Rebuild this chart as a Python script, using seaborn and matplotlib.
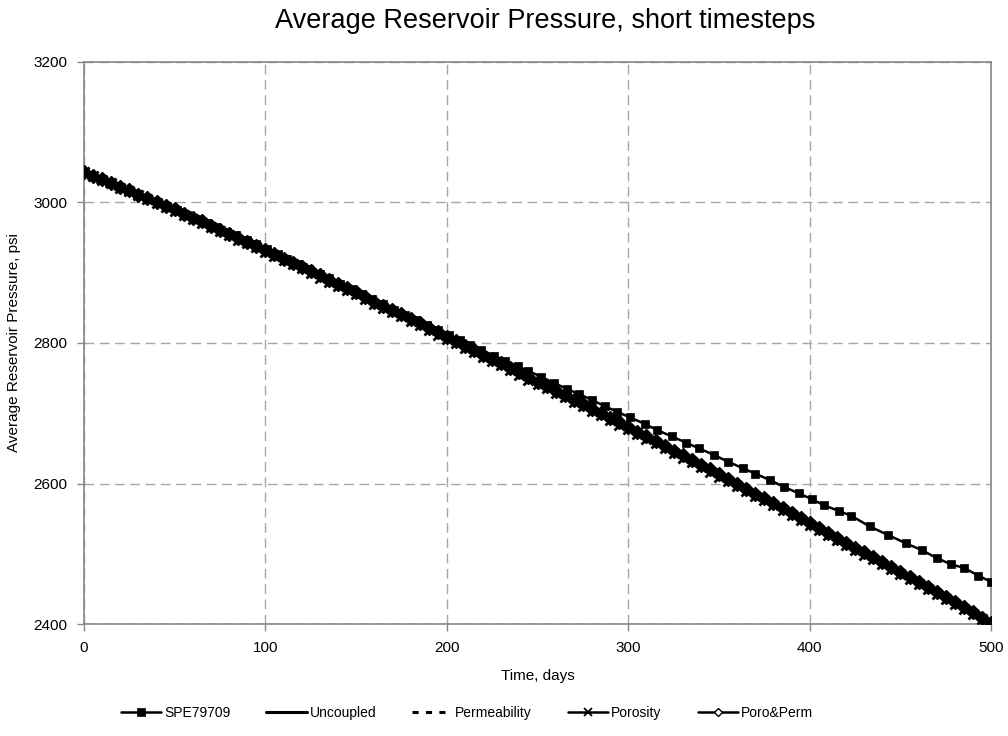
import matplotlib
matplotlib.use("Agg")
import matplotlib.pyplot as plt
import seaborn as sns
import numpy as np

# ---------------- data ----------------
t_spe = [0, 4, 9, 14, 19, 24, 29, 35, 40, 46, 51, 57, 62, 68, 73, 79, 84, 90, 95,
         101, 107, 112, 118, 124, 130, 135, 141, 147, 153, 159, 165, 171, 177, 183,
         189, 195, 201, 207, 213, 219, 226, 232, 239, 245, 252, 259, 266, 273, 280,
         287, 294, 301, 309, 316, 324, 332, 339, 347, 355, 363, 370, 378, 386, 394,
         401, 408, 416, 423, 433, 443, 453, 462, 470, 478, 485, 493, 500]
p_spe = [3043, 3039, 3033, 3028, 3023, 3017, 3012, 3006, 3001, 2994, 2989, 2982,
         2977, 2970, 2965, 2958, 2953, 2946, 2941,
         2934, 2926, 2920, 2913, 2905, 2898, 2892, 2884, 2877, 2869, 2862, 2855,
         2847, 2840, 2833, 2825, 2818, 2811, 2804, 2797, 2790, 2782, 2775, 2767,
         2760, 2752, 2743, 2735, 2727, 2719, 2710, 2702, 2694, 2685, 2676, 2667,
         2658, 2650, 2641, 2631, 2622, 2614, 2605, 2595, 2586, 2578, 2569, 2561,
         2554, 2539, 2527, 2515, 2505, 2494, 2485, 2480, 2469, 2460]

t_coarse = [0, 25, 50, 75, 100, 125, 150, 175, 200, 225, 250, 275, 300, 325,
            350, 375, 400, 425, 450, 475, 500]
p_uncoupled = [3043, 3016, 2988, 2959, 2930, 2900, 2869, 2838, 2806, 2774, 2742,
               2710, 2677, 2644, 2610, 2576, 2541, 2506, 2471, 2436, 2400]
p_perm = [3043, 3017, 2990, 2962, 2934, 2905, 2875, 2844, 2813, 2781, 2749,
          2716, 2683, 2649, 2615, 2580, 2545, 2510, 2474, 2438, 2402]

t_dense = list(range(0, 501, 5))
p_poro = [3043, 3038, 3032, 3027, 3021, 3016, 3010, 3005, 2999, 2994, 2988,
          2982, 2976, 2971, 2965, 2959, 2953, 2947, 2942, 2936, 2930,
          2924, 2918, 2912, 2906, 2900, 2893, 2887, 2881, 2875, 2869,
          2863, 2856, 2850, 2844, 2838, 2831, 2825, 2819, 2812, 2806,
          2800, 2793, 2787, 2780, 2774, 2768, 2761, 2755, 2748, 2742,
          2736, 2729, 2723, 2716, 2710, 2703, 2697, 2690, 2684, 2677,
          2670, 2664, 2657, 2650, 2644, 2637, 2630, 2623, 2617, 2610,
          2603, 2596, 2589, 2582, 2576, 2569, 2562, 2555, 2548, 2541,
          2534, 2527, 2520, 2513, 2506, 2499, 2492, 2485, 2478, 2471,
          2464, 2457, 2450, 2443, 2436, 2428, 2421, 2414, 2407, 2400]
p_poroperm = [3043, 3038, 3033, 3028, 3022, 3017, 3011, 3006, 3001, 2995, 2990,
              2984, 2978, 2973, 2967, 2961, 2955, 2950, 2944, 2938, 2932,
              2926, 2920, 2914, 2908, 2902, 2896, 2890, 2884, 2878, 2872,
              2866, 2859, 2853, 2847, 2841, 2834, 2828, 2822, 2815, 2809,
              2803, 2796, 2790, 2783, 2777, 2771, 2764, 2758, 2751, 2745,
              2739, 2732, 2726, 2719, 2713, 2706, 2700, 2693, 2687, 2680,
              2673, 2667, 2660, 2653, 2647, 2640, 2633, 2626, 2620, 2613,
              2606, 2599, 2592, 2585, 2579, 2572, 2565, 2558, 2551, 2544,
              2537, 2530, 2523, 2516, 2509, 2502, 2495, 2488, 2481, 2474,
              2467, 2460, 2453, 2446, 2439, 2431, 2424, 2417, 2409, 2402]

x_ticks = [0, 100, 200, 300, 400, 500]
y_ticks = [2400, 2600, 2800, 3000, 3200]

# ---------------- style ----------------
sns.set_theme(style="white")
plt.rcParams['font.family'] = ['Liberation Sans', 'DejaVu Sans']
plt.rcParams['text.color'] = 'black'
plt.rcParams['axes.labelcolor'] = 'black'

fig = plt.figure(figsize=(10.08, 7.36), dpi=100)
ax = fig.add_axes([0.0833, 0.152, 0.900, 0.764])

sns.lineplot(x=t_spe, y=p_spe, ax=ax, color='black', lw=1.8, marker='s',
             markersize=6.3, markeredgewidth=0.5, markeredgecolor='black',
             label='SPE79709', zorder=5)
sns.lineplot(x=t_coarse, y=p_uncoupled, ax=ax, color='black', lw=2.2,
             label='Uncoupled', zorder=4)
sns.lineplot(x=t_coarse, y=p_perm, ax=ax, color='black', lw=2.2,
             linestyle=(0, (2, 2.4)), label='Permeability', zorder=4)
sns.lineplot(x=t_dense, y=p_poro, ax=ax, color='black', lw=1.8, marker='x',
             markersize=7, markeredgewidth=2.0, markeredgecolor='black',
             label='Porosity', zorder=4)
sns.lineplot(x=t_dense, y=p_poroperm, ax=ax, color='black', lw=1.8, marker='D',
             markersize=7, markeredgewidth=1, markerfacecolor='black',
             markeredgecolor='black', label='Poro&Perm', zorder=4)

ax.set_xlim(0, 500)
ax.set_ylim(2400, 3200)
ax.set_xticks(x_ticks)
ax.set_yticks(y_ticks)
ax.grid(True, color='#a6a6a6', linestyle=(0, (7, 4)), linewidth=1.0)
ax.set_axisbelow(True)
for s in ax.spines.values():
    s.set_color('#868686')
    s.set_linewidth(1.2)
ax.tick_params(axis='both', direction='out', length=5, width=1, color='#868686',
               labelsize=11, labelcolor='black', pad=7, left=True, bottom=True)

ax.set_xlabel('Time, days', fontsize=11, labelpad=10, color='black')
ax.set_ylabel('Average Reservoir Pressure, psi', fontsize=11, labelpad=9,
              color='black')
ax.set_title('Average Reservoir Pressure, short timesteps', fontsize=19.5,
             pad=24, x=0.508, color='black')

handles, labels = ax.get_legend_handles_labels()
if ax.get_legend():
    ax.get_legend().remove()
leg = fig.legend(handles, labels, loc='upper left', bbox_to_anchor=(0.120, 0.041),
                 bbox_transform=fig.transFigure, ncol=5, frameon=False,
                 fontsize=10, handlelength=2.9, columnspacing=2.6,
                 handletextpad=0.2, borderpad=0, borderaxespad=0)
for t in leg.get_texts():
    t.set_color('black')
for h in leg.legend_handles:
    h.set_markersize(5.5)
leg.legend_handles[3].set_markersize(6)
leg.legend_handles[3].set_markeredgewidth(1.3)
leg.legend_handles[3].set_markeredgecolor('black')
leg.legend_handles[4].set_markersize(4.5)
leg.legend_handles[4].set_markerfacecolor('white')

fig.savefig('out.png', dpi=100)
